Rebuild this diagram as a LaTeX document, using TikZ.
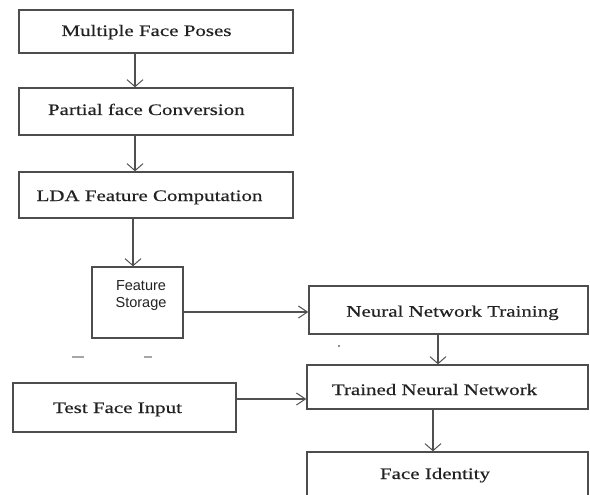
\documentclass[tikz,border=0pt]{standalone}
\usepackage{fontspec}
\setmainfont{Liberation Serif}
\newfontfamily\serifw[FakeStretch=1.31,FakeBold=0.4]{Liberation Serif}
\newfontfamily\sansf{Liberation Sans}
\usetikzlibrary{arrows.meta}
\definecolor{boxc}{HTML}{4D4D4D}
\definecolor{arrc}{HTML}{505050}
\definecolor{txtc}{HTML}{222222}
\begin{document}
\begin{tikzpicture}[x=1pt,y=-1pt,
  box/.style={draw=boxc, line width=1.4pt, inner sep=0pt, fill=white},
  lbl/.style={font=\serifw\fontsize{16}{19}\selectfont, text=txtc, inner sep=0pt, anchor=base},
  slbl/.style={font=\sansf\fontsize{14.5}{17}\selectfont, text=txtc, inner sep=0pt, align=center},
  varr/.style={draw=arrc, line width=1.2pt, -{Straight Barb[length=7pt,width=16pt,line width=1pt]}},
  harr/.style={draw=arrc, line width=1.2pt, -{Straight Barb[length=9pt,width=12pt,line width=1pt]}},
  straymark/.style={draw=gray!70, line width=1.3pt}
]
\useasboundingbox (0,0) rectangle (590,495);
% boxes
\node[box, minimum width=274pt, minimum height=43pt] (b1) at (156,31.5) {};
\node[box, minimum width=274pt, minimum height=47pt] (b2) at (156,111.5) {};
\node[box, minimum width=274pt, minimum height=46pt] (b3) at (156,195) {};
\node[box, minimum width=91pt, minimum height=71pt] (fs) at (137.5,302.5) {};
\node[box, minimum width=279pt, minimum height=48pt] (nnt) at (448.5,310) {};
\node[box, minimum width=281pt, minimum height=44pt] (tnn) at (447.5,387) {};
\node[box, minimum width=223pt, minimum height=49pt] (test) at (124.5,407.5) {};
\node[box, minimum width=281pt, minimum height=48pt] (fi) at (447.5,476) {};
% labels
\node[lbl] (l1) at (146.5,36) {Multiple Face Poses};
\node[lbl] (l2) at (146.3,115) {Partial face Conversion};
\node[lbl] (l3) at (149.5,201) {LDA Feature Computation};
\node[slbl] (l4) at (141,295.5) {Feature\\Storage};
\node[lbl] (l5) at (452.5,316.7) {Neural Network Training};
\node[lbl] (l6) at (434.5,395) {Trained Neural Network};
\node[lbl] (l7) at (117.5,413) {Test Face Input};
\node[lbl] (l8) at (435,479) {Face Identity};
% connectors
\draw[varr] (b1.south -| 135,0) -- (b2.north -| 135,0);
\draw[varr] (b2.south -| 135,0) -- (b3.north -| 135,0);
\draw[varr] (b3.south -| 133,0) -- (fs.north -| 133,0);
\draw[harr] (fs.east |- 0,312) -- (nnt.west |- 0,312);
\draw[varr] (nnt.south -| 438,0) -- (tnn.north -| 438,0);
\draw[harr] (test.east |- 0,399) -- (tnn.west |- 0,399);
\draw[varr] (tnn.south -| 433,0) -- (fi.north -| 433,0);
% stray marks
\fill[gray!80!black] (339,346) circle (1.1pt);
\draw[straymark] (72,357) -- (84,357);
\draw[straymark] (144,357) -- (152,357);
\end{tikzpicture}
\end{document}
